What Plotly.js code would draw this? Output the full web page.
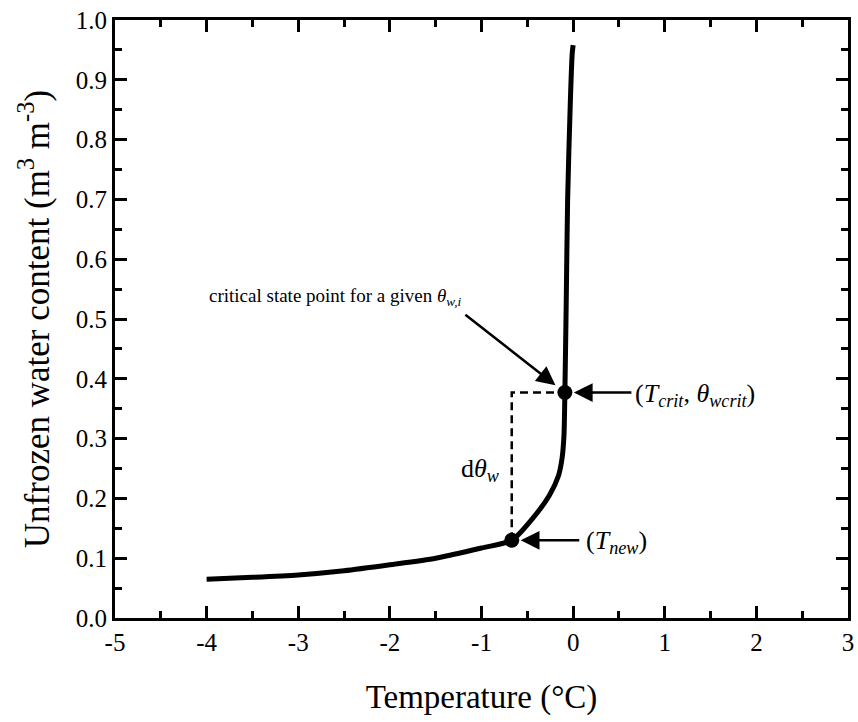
<!DOCTYPE html>
<html>
<head>
<meta charset="utf-8">
<script src="https://cdn.plot.ly/plotly-3.0.1.min.js"></script>
<style>html,body{margin:0;padding:0;background:#fff;}#chart{width:858px;height:722px;}</style>
</head>
<body>
<div id="chart"></div>
<script>
// Curve data: unfrozen water content vs temperature
const temperature   = [-4.0, -3.5, -3.0, -2.5, -2.0, -1.5, -1.0, -0.67, -0.45, -0.26, -0.16, -0.12, -0.10, -0.09, -0.075, -0.06, -0.03, -0.01, 0.0];
const unfrozenWater = [0.065, 0.068, 0.072, 0.079, 0.089, 0.100, 0.117, 0.130, 0.165, 0.205, 0.238, 0.268, 0.305, 0.377, 0.530, 0.700, 0.866, 0.944, 0.958];

// Key points: [critical state, new temperature]
const keyT     = [-0.09, -0.67];
const keyTheta = [0.377, 0.130];

const xTicks = [-5, -4, -3, -2, -1, 0, 1, 2, 3];
const yTicks = [0.0, 0.1, 0.2, 0.3, 0.4, 0.5, 0.6, 0.7, 0.8, 0.9, 1.0];

const SERIF = 'Liberation Serif, serif';

const traces = [
  {
    x: temperature, y: unfrozenWater, mode: 'lines', type: 'scatter',
    line: {color: '#000', width: 5, shape: 'spline', smoothing: 0.7},
    hoverinfo: 'skip', showlegend: false
  },
  {
    x: [keyT[1], keyT[1], keyT[0]], y: [keyTheta[1], keyTheta[0], keyTheta[0]],
    mode: 'lines', type: 'scatter',
    line: {color: '#000', width: 2.5, dash: '8px,5px'},
    hoverinfo: 'skip', showlegend: false
  },
  {
    x: keyT, y: keyTheta, mode: 'markers', type: 'scatter',
    marker: {color: '#000', size: 15},
    hoverinfo: 'skip', showlegend: false
  }
];

const arrowStyle = {showarrow: true, arrowhead: 2, arrowsize: 1.5, arrowwidth: 2.5, arrowcolor: '#000', text: '', xref: 'x', yref: 'y'};

const annotations = [
  Object.assign({}, arrowStyle, {x: keyT[0], y: keyTheta[0], ax: -101, ay: -79, standoff: 12}),
  Object.assign({}, arrowStyle, {x: keyT[0], y: keyTheta[0], ax: 68, ay: 0, standoff: 9}),
  Object.assign({}, arrowStyle, {x: keyT[1], y: keyTheta[1], ax: 69, ay: 0, standoff: 9}),
  {
    x: keyT[0], y: keyTheta[0], xref: 'x', yref: 'y', showarrow: false,
    text: 'critical state point for a given <i>θ</i><sub><i>w,i</i></sub>',
    font: {family: SERIF, size: 19, color: '#000'},
    xanchor: 'center', yanchor: 'middle', xshift: -230, yshift: 96
  },
  {
    x: keyT[0], y: keyTheta[0], xref: 'x', yref: 'y', showarrow: false,
    text: '(<i>T</i><sub><i>crit</i></sub>, <i>θ</i><sub><i>wcrit</i></sub>)',
    font: {family: SERIF, size: 26, color: '#000'},
    xanchor: 'left', yanchor: 'middle', xshift: 68, yshift: -2
  },
  {
    x: keyT[1], y: keyTheta[1], xref: 'x', yref: 'y', showarrow: false,
    text: '(<i>T</i><sub><i>new</i></sub>)',
    font: {family: SERIF, size: 26, color: '#000'},
    xanchor: 'left', yanchor: 'middle', xshift: 72, yshift: -2
  },
  {
    x: keyT[1], y: (keyTheta[0] + keyTheta[1]) / 2, xref: 'x', yref: 'y', showarrow: false,
    text: 'd<i>θ</i><sub><i>w</i></sub>',
    font: {family: SERIF, size: 26, color: '#000'},
    xanchor: 'center', yanchor: 'middle', xshift: -32, yshift: -4
  }
];

const axisCommon = {
  showgrid: false, zeroline: false, showline: true, linecolor: '#000', linewidth: 3,
  mirror: 'allticks', ticks: 'inside', ticklen: 12, tickwidth: 3, tickcolor: '#000',
  tickfont: {family: SERIF, size: 25, color: '#000'}
};

const layout = {
  width: 858, height: 722,
  margin: {l: 115, r: 10, t: 20, b: 104},
  paper_bgcolor: '#fff', plot_bgcolor: '#fff',
  showlegend: false,
  xaxis: Object.assign({}, axisCommon, {
    range: [-5, 3], tickmode: 'array', tickvals: xTicks, ticktext: xTicks.map(String),
    minor: {dtick: 0.5, tick0: 0, ticks: 'inside', ticklen: 7, tickwidth: 3, tickcolor: '#000'},
    title: {text: 'Temperature (°C)', font: {family: SERIF, size: 33, color: '#000'}, standoff: 30}
  }),
  yaxis: Object.assign({}, axisCommon, {
    range: [0, 1], tickmode: 'array', tickvals: yTicks, ticktext: yTicks.map(v => v.toFixed(1)),
    minor: {dtick: 0.05, tick0: 0, ticks: 'inside', ticklen: 7, tickwidth: 3, tickcolor: '#000'},
    title: {text: 'Unfrozen water content (m<sup>3</sup> m<sup>-3</sup>)', font: {family: SERIF, size: 35, color: '#000'}, standoff: 16}
  }),
  annotations: annotations
};

Plotly.newPlot('chart', traces, layout, {displayModeBar: false, staticPlot: true});
</script>
</body>
</html>
